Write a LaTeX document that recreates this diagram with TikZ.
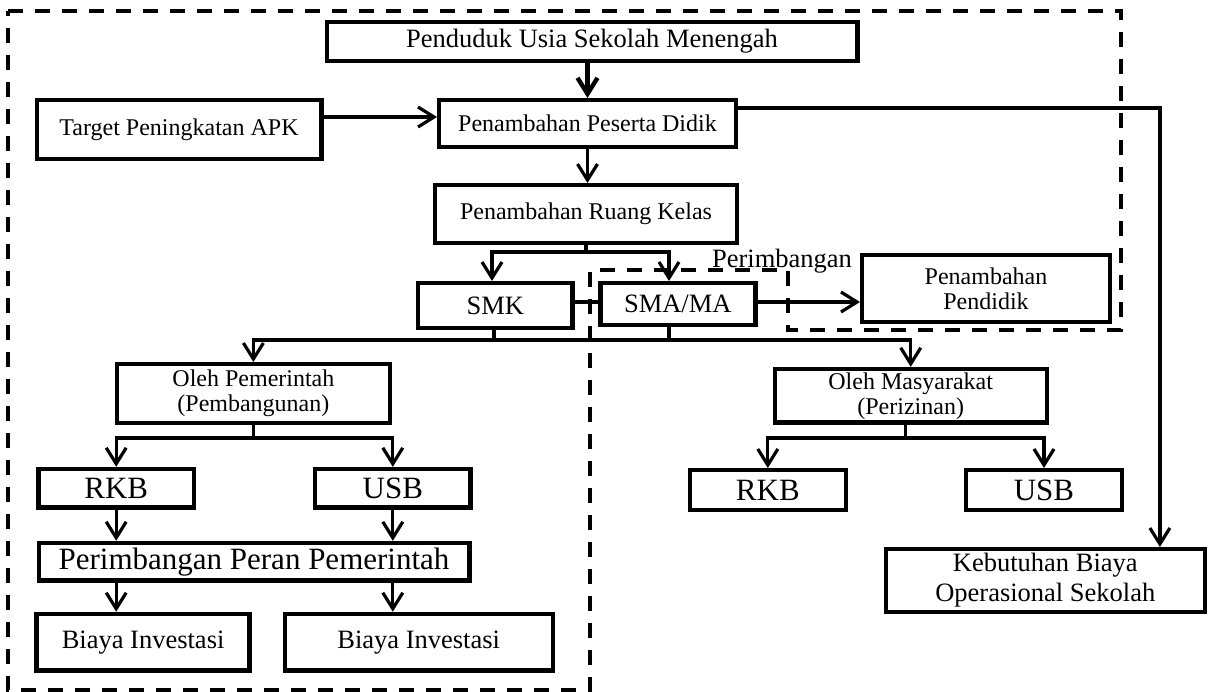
\documentclass[tikz,border=0pt]{standalone}
\usepackage{fontspec}
\setmainfont{Liberation Serif}
\usetikzlibrary{arrows.meta}

\begin{document}
\begin{tikzpicture}[x=0.5pt,y=-0.5pt,
  box/.style={draw,line width=2.2pt,inner sep=0pt,align=center},
  txs/.style={font=\fontsize{12}{12.5}\selectfont},
  txm/.style={font=\fontsize{13.25}{15}\selectfont},
  txl/.style={font=\fontsize{15.5}{17}\selectfont},
  arr/.style={line width=1.6pt,-{Straight Barb[length=8pt,width=10pt]}},
  ln/.style={line width=1.6pt},
  dsh/.style={line width=1.6pt,dash pattern=on 7.5pt off 6pt}]
  \useasboundingbox (0,0) rectangle (1209,691);
  \draw [dsh] (8,11) -- (1121,11) -- (1121,330) -- (788,330) -- (788,270) -- (590,270) -- (590,690) -- (8,690) -- cycle;
  \node [box,txm,minimum width=265.3pt,minimum height=19.3pt] (pus) at (592,41.5) {Penduduk Usia Sekolah Menengah};
  \node [box,txs,minimum width=142.3pt,minimum height=29.3pt] (tpa) at (179,129.4) {Target Peningkatan APK};
  \node [box,txs,minimum width=148.3pt,minimum height=23.3pt] (ppd) at (587.5,123.5) {Penambahan Peserta Didik};
  \node [box,txs,minimum width=150.8pt,minimum height=28.8pt] (prk) at (586,214) {Penambahan Ruang Kelas};
  \node [box,txm,minimum width=77.3pt,minimum height=22.3pt] (smk) at (495.3,305.5) {SMK};
  \node [box,txm,minimum width=77.5pt,minimum height=20.8pt] (sma) at (677.8,304) {SMA/MA};
  \node [txm,inner sep=0pt,anchor=base] (prm) at (782,267) {Perimbangan};
  \node [box,txs,minimum width=123.8pt,minimum height=33.3pt] (ppn) at (986,288.5) {Penambahan\\Pendidik};
  \node [box,txs,minimum width=136.3pt,minimum height=29.3pt] (opm) at (253.4,393.5) {Oleh Pemerintah\\(Pembangunan)};
  \node [box,txs,minimum width=136pt,minimum height=26.8pt] (oms) at (910.7,395.8) {Oleh Masyarakat\\(Perizinan)};
  \node [box,txl,minimum width=77.8pt,minimum height=19.3pt] (rkba) at (116.2,488.3) {RKB};
  \node [box,txl,minimum width=77.8pt,minimum height=19.3pt] (usba) at (392.8,488.3) {USB};
  \node [box,txl,minimum width=215.3pt,minimum height=18.8pt] (ppp) at (254,561.8) {Perimbangan Peran Pemerintah};
  \node [box,txm,minimum width=106.5pt,minimum height=28.3pt] (bia) at (143.1,642.2) {Biaya Investasi};
  \node [box,txm,minimum width=134pt,minimum height=28.3pt] (bib) at (418.7,642.2) {Biaya Investasi};
  \node [box,txl,minimum width=78pt,minimum height=19.8pt] (rkbb) at (767.8,490) {RKB};
  \node [box,txl,minimum width=77.8pt,minimum height=19.8pt] (usbb) at (1044,490) {USB};
  \node [box,txm,minimum width=159.5pt,minimum height=31.3pt] (keb) at (1045.3,580.5) {Kebutuhan Biaya\\Operasional Sekolah};
  \coordinate (k1) at (586,252);
  \coordinate (k2) at (494,340);
  \coordinate (k3) at (669,340);
  \draw [arr,line width=2.2pt] (pus.south -| ppd.north) -- (ppd.north);
  \draw [arr] (tpa.east |- 0,117) -- (ppd.west |- 0,117);
  \draw [arr] (ppd.south) -- (ppd.south |- prk.north);
  \draw [ln] (prk.south) -- (k1);
  \draw [arr] (k1) -| ([xshift=-1.65pt]smk.north);
  \draw [arr] (k1) -| ([xshift=-4.4pt]sma.north);
  \draw [ln] (smk.east |- 0,302) -- (sma.west |- 0,302);
  \draw [arr] (sma.east |- 0,302) -- (ppn.west |- 0,302);
  \draw [ln] (smk.south -| k2) -- (k2) -- (k3);
  \draw [ln] (sma.south -| k3) -- (k3);
  \draw [arr] (k2) -| (opm.north);
  \draw [arr] (k3) -| (oms.north);
  \draw [arr] (opm.south) -- (opm.south |- 0,438) -| (rkba.north);
  \draw [arr] (opm.south |- 0,438) -| (usba.north);
  \draw [arr] (rkba.south) -- (rkba.south |- ppp.north);
  \draw [arr] (usba.south) -- (usba.south |- ppp.north);
  \draw [arr] (ppp.south -| rkba) -- (bia.north -| rkba);
  \draw [arr] (ppp.south -| usba) -- (bib.north -| usba);
  \draw [arr] ([xshift=-2.5pt]oms.south) -- ([xshift=-2.5pt]oms.south |- 0,438) -| (rkbb.north);
  \draw [arr] ([xshift=-2.5pt]oms.south |- 0,438) -| (usbb.north);
  \draw [arr] (ppd.east |- 0,108) -| ([xshift=57.3pt]keb.north);
\end{tikzpicture}
\end{document}
